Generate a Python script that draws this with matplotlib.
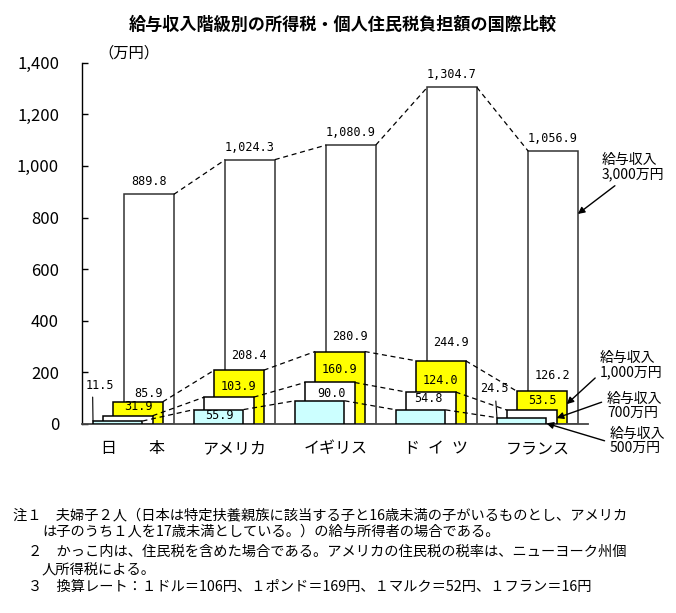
import matplotlib
matplotlib.use("Agg")
import matplotlib.pyplot as plt
import numpy as np

plt.rcParams['font.family'] = ['Noto Sans CJK JP', 'DejaVu Sans']

# data (万円)
countries = ["日　　本", "アメリカ", "イギリス", "ド\u2002イ\u2002ツ", "フランス"]
tax_500 = [11.5, 55.9, 90.0, 54.8, 24.5]
tax_700 = [31.9, 103.9, 160.9, 124.0, 53.5]
tax_1000 = [85.9, 208.4, 280.9, 244.9, 126.2]
tax_3000 = [889.8, 1024.3, 1080.9, 1304.7, 1056.9]
yticks = [0, 200, 400, 600, 800, 1000, 1200, 1400]
level_names = ["給与収入\n500万円", "給与収入\n700万円", "給与収入\n1,000万円", "給与収入\n3,000万円"]

W, H = 676, 613
PT = 0.72  # points per pixel at dpi 100
NUM = "DejaVu Sans Mono"

def fig_xy(x, y):
    return (x / W, 1 - y / H)

fig = plt.figure(figsize=(W / 100, H / 100), dpi=100)
ax = fig.add_axes([82 / W, 1 - 424 / H, (588 - 82) / W, (424 - 62.7) / H])

x = np.arange(len(countries))
bw = 0.49
# series: values, x offset, face colour, edge colour, zorder (back to front)
series = [
    (tax_3000, 0.31, "white", "#333333", 1),
    (tax_1000, 0.20, "#ffff00", "black", 2),
    (tax_700, 0.10, "white", "black", 3),
    (tax_500, 0.00, "#ccffff", "black", 4),
]
for vals, off, fc, ec, z in series:
    ax.bar(x + off, vals, width=bw, align="edge", color=fc, edgecolor=ec,
           linewidth=1.1, zorder=z)
    # dashed links: top-right of one country to top-left of next
    for i in range(len(x) - 1):
        ax.plot([x[i] + off + bw, x[i + 1] + off], [vals[i], vals[i + 1]],
                color="black", lw=0.9, ls=(0, (4, 3)), zorder=6)

# value labels
for i, v in enumerate(tax_3000):
    ax.annotate(f"{v:,.1f}", (x[i] + 0.31 + bw / 2, v), xytext=(0, 12.5 * PT),
                textcoords="offset points", ha="center", va="center",
                fontfamily=NUM, fontsize=8.5, zorder=7)

dy_1000 = [8, 15, 15, 18, 16]
for i, v in enumerate(tax_1000):
    ax.annotate(f"{v:,.1f}", (x[i] + 0.30 + bw / 2, v), xytext=(0, dy_1000[i] * PT),
                textcoords="offset points", ha="center", va="center",
                fontfamily=NUM, fontsize=8.5, zorder=7)

dy_700 = [9, 11, 13, 11, 10]
for i, v in enumerate(tax_700):
    ax.annotate(f"{v:,.1f}", (x[i] + 0.20 + bw / 2, v), xytext=(0, dy_700[i] * PT),
                textcoords="offset points", ha="center", va="center",
                fontfamily=NUM, fontsize=8.5, zorder=7)

off_500 = [(7, 36), (25, -6.4), (36, 7), (32, 11), (-3, 28.7)]
leader_500 = [0.24, None, None, None, 0.55]
for i, v in enumerate(tax_500):
    dx, dy = off_500[i]
    props = None
    if leader_500[i] is not None:
        props = dict(arrowstyle="-", lw=0.8, color="black",
                     relpos=(leader_500[i], 0), shrinkA=2, shrinkB=0)
    ax.annotate(f"{v:,.1f}", (x[i], v), xytext=(dx * PT, dy * PT),
                textcoords="offset points", ha="center", va="center",
                fontfamily=NUM, fontsize=8.5, zorder=7, arrowprops=props)

# series call-outs at France
last = len(x) - 1
callouts = [
    # values, offset, height fraction, text left px, text centre y px, relpos
    (tax_3000, 0.31, 0.77, 602, 167, (0.3, 0)),
    (tax_1000, 0.20, 0.61, 600, 365, (0, 0.2)),
    (tax_700, 0.10, 0.43, 607, 406, (0, 0.7)),
    (tax_500, 0.00, 0.10, 610, 441, (0, 0.45)),
]
names = [level_names[3], level_names[2], level_names[1], level_names[0]]
for (vals, off, frac, tx, ty, rp), name in zip(callouts, names):
    ax.annotate(name, (x[last] + off + bw, vals[last] * frac),
                xytext=fig_xy(tx, ty), textcoords="figure fraction",
                ha="left", va="center", fontsize=10, linespacing=1.05,
                annotation_clip=False, zorder=8,
                arrowprops=dict(arrowstyle="-|>", color="black", lw=1,
                                mutation_scale=10, relpos=rp,
                                shrinkA=2, shrinkB=0))

ax.set_xlim(-0.109, 4.901)
ax.set_ylim(0, 1400)
ax.set_yticks(yticks)
ax.set_yticklabels([f"{t:,}" for t in yticks], fontsize=12)
ax.set_xticks(x + 0.40)
ax.set_xticklabels(countries, fontsize=11.5)
ax.tick_params(axis="y", direction="in", length=4.3, width=1, pad=16.5)
ax.tick_params(axis="x", length=0, pad=11.5)
for s in ["top", "right"]:
    ax.spines[s].set_visible(False)
ax.spines["left"].set_linewidth(1.0)
ax.spines["bottom"].set_linewidth(1.3)
ax.spines["bottom"].set_color("#444444")

fig.text(*fig_xy(343, 25), "給与収入階級別の所得税・個人住民税負担額の国際比較",
         ha="center", va="center", fontsize=12.3, fontweight="bold")
fig.text(*fig_xy(98, 53), "（万円）", ha="left", va="center", fontsize=11)

notes = [
    (13, 515, "注１　夫婦子２人（日本は特定扶養親族に該当する子と16歳未満の子がいるものとし、アメリカ"),
    (42, 531, "は子のうち１人を17歳未満としている。）の給与所得者の場合である。"),
    (28, 552, "２　かっこ内は、住民税を含めた場合である。アメリカの住民税の税率は、ニューヨーク州個"),
    (42, 569, "人所得税による。"),
    (28, 587, "３　換算レート：１ドル＝106円、１ポンド＝169円、１マルク＝52円、１フラン＝16円"),
]
for nx, ny, t in notes:
    fig.text(*fig_xy(nx, ny), t, ha="left", va="center", fontsize=10.27)

fig.savefig("out.png", dpi=100)
